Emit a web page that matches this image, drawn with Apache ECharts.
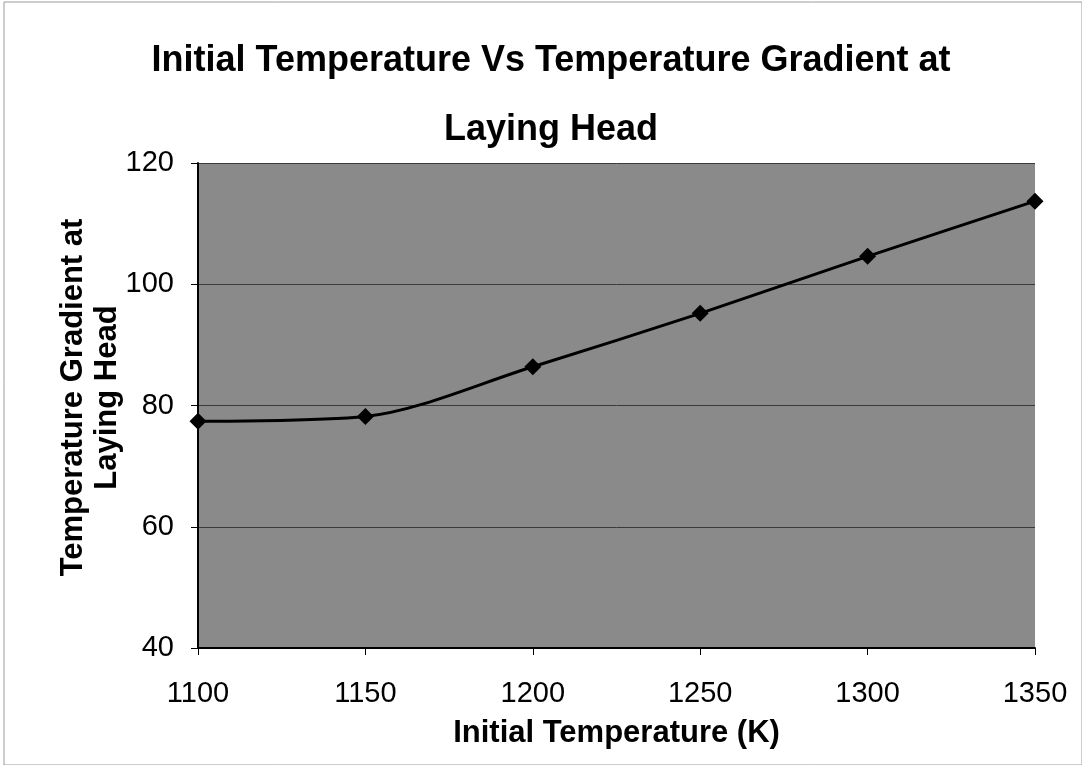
<!DOCTYPE html>
<html>
<head>
<meta charset="utf-8">
<script src="https://cdn.jsdelivr.net/npm/echarts@6/dist/echarts.min.js"></script>
<style>
html,body{margin:0;padding:0;background:#fff;}
#chart{width:1082px;height:765px;}
</style>
</head>
<body>
<div id="chart"></div>
<script>
const initialTemp = [1100, 1150, 1200, 1250, 1300, 1350];
const tempGradient = [77.4, 78.2, 86.4, 95.2, 104.6, 113.7];
const titleText = 'Initial Temperature Vs Temperature Gradient at\nLaying Head';
const xAxisName = 'Initial Temperature (K)';
const yAxisName = 'Temperature Gradient at\nLaying Head';

const sans = '"Liberation Sans", Arial, sans-serif';
const chart = echarts.init(document.getElementById('chart'), null, {renderer: 'canvas'});
chart.setOption({
  backgroundColor: '#ffffff',
  animation: false,
  title: {
    text: titleText,
    left: 546, top: 22, textAlign: 'center',
    textStyle: {fontFamily: sans, fontWeight: 'bold', fontSize: 36, lineHeight: 69, color: '#000'}
  },
  grid: {left: 198, right: 47, top: 163, bottom: 117, show: true, backgroundColor: '#8a8a8a', borderWidth: 0},
  xAxis: {
    type: 'value', min: 1100, max: 1350, interval: 50,
    name: xAxisName, nameLocation: 'middle', nameGap: 70, nameMoveOverlap: false,
    nameTextStyle: {fontFamily: sans, fontWeight: 'bold', fontSize: 31, color: '#000'},
    axisLine: {show: true, lineStyle: {color: '#000', width: 2}},
    axisTick: {show: true, inside: false, length: 7, lineStyle: {color: '#000', width: 1}},
    axisLabel: {fontFamily: sans, fontSize: 29, color: '#000', margin: 31, formatter: v => String(v)},
    splitLine: {show: false}
  },
  yAxis: {
    type: 'value', min: 40, max: 120, interval: 20,
    name: yAxisName, nameLocation: 'middle', nameGap: 74, nameRotate: 90, nameMoveOverlap: false,
    nameTextStyle: {fontFamily: sans, fontWeight: 'bold', fontSize: 31, lineHeight: 34, color: '#000', padding: [0, 0, 0, 16]},
    axisLine: {show: true, lineStyle: {color: '#000', width: 2}},
    axisTick: {show: true, inside: false, length: 7, lineStyle: {color: '#000', width: 1}},
    axisLabel: {fontFamily: sans, fontSize: 29, color: '#000', margin: 24},
    splitLine: {show: true, lineStyle: {color: '#3a3a3a', width: 1}}
  },
  series: [{
    type: 'line',
    data: initialTemp.map((x, i) => [x, tempGradient[i]]),
    smooth: 0.3,
    symbol: 'diamond', symbolSize: 17,
    itemStyle: {color: '#000'},
    lineStyle: {color: '#000', width: 3},
    clip: false
  }],
  graphic: [{
    type: 'rect', shape: {x: 4, y: 2, width: 1078, height: 763},
    style: {fill: 'none', stroke: '#9a9a9a', lineWidth: 1}, silent: true
  }]
});
</script>
</body>
</html>
